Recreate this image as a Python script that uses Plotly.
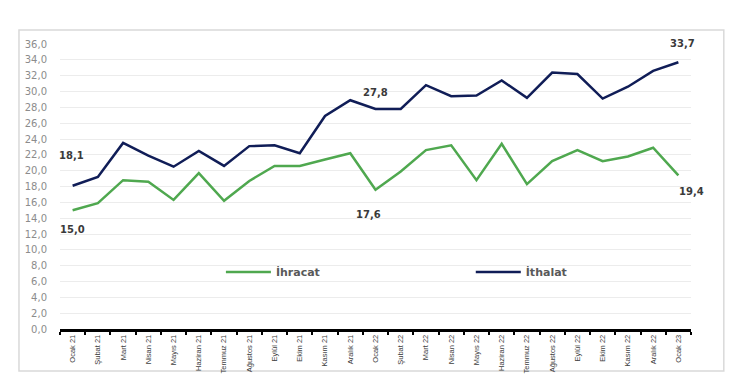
import plotly.graph_objects as go

months = ["Ocak 21", "Şubat 21", "Mart 21", "Nisan 21", "Mayıs 21", "Haziran 21", "Temmuz 21",
          "Ağustos 21", "Eylül 21", "Ekim 21", "Kasım 21", "Aralık 21", "Ocak 22", "Şubat 22",
          "Mart 22", "Nisan 22", "Mayıs 22", "Haziran 22", "Temmuz 22", "Ağustos 22", "Eylül 22",
          "Ekim 22", "Kasım 22", "Aralık 22", "Ocak 23"]

ihracat = [15.0, 15.9, 18.8, 18.6, 16.3, 19.7, 16.2, 18.7, 20.6, 20.6, 21.4, 22.2, 17.6, 19.9,
           22.6, 23.2, 18.8, 23.4, 18.3, 21.2, 22.6, 21.2, 21.8, 22.9, 19.4]

ithalat = [18.1, 19.2, 23.5, 21.9, 20.5, 22.5, 20.6, 23.1, 23.2, 22.2, 26.9, 28.9, 27.8, 27.8,
           30.8, 29.4, 29.5, 31.4, 29.2, 32.4, 32.2, 29.1, 30.6, 32.6, 33.7]

y_ticks = [0, 2, 4, 6, 8, 10, 12, 14, 16, 18, 20, 22, 24, 26, 28, 30, 32, 34, 36]

# labelled points: (index, yshift, xshift)
labels_ihracat = [(0, -19, 0), (12, -25, -7), (24, -16, 13)]
labels_ithalat = [(0, 30, -1), (12, 16, 0), (24, 19, 4)]

GREEN = "#4fa84f"
NAVY = "#101d57"

fig = go.Figure()
fig.add_trace(go.Scatter(x=months, y=ihracat, mode="lines", name="İhracat",
                         line=dict(color=GREEN, width=2.5), legend="legend"))
fig.add_trace(go.Scatter(x=months, y=ithalat, mode="lines", name="İthalat",
                         line=dict(color=NAVY, width=2.5), legend="legend2"))

ann_font = dict(family="DejaVu Sans", size=10, color="#3a3a3a")
annotations = []
for series, lab in ((ihracat, labels_ihracat), (ithalat, labels_ithalat)):
    for i, ys, xs in lab:
        annotations.append(dict(x=months[i], y=series[i], xref="x", yref="y",
                                text="<b>" + f"{series[i]:.1f}".replace(".", ",") + "</b>",
                                showarrow=False, yshift=ys, xshift=xs, font=ann_font))

leg_font = dict(family="DejaVu Sans", size=11, color="#595959", weight="bold")
leg_common = dict(orientation="h", xanchor="left", yanchor="middle", y=0.2,
                  font=leg_font, bgcolor="rgba(0,0,0,0)", itemwidth=45)

# page has an 8px body margin, so the figure is drawn 8px smaller and shifted
fig.update_layout(
    width=742, height=382,
    margin=dict(l=52, r=59, t=36, b=61),
    paper_bgcolor="white", plot_bgcolor="white",
    separators=",.",
    showlegend=True,
    legend=dict(x=0.255, **leg_common),
    legend2=dict(x=0.651, **leg_common),
    annotations=annotations,
    shapes=[dict(type="rect", xref="paper", yref="paper",
                 x0=-0.065, x1=1.052, y0=-0.147, y1=1.049,
                 line=dict(color="#d9d9d9", width=1.5), layer="below")],
    xaxis=dict(type="category", categoryorder="array", categoryarray=months,
               range=[-0.5, len(months) - 0.5], autorange=False,
               tickangle=-90, tickfont=dict(family="Liberation Sans", size=7.5, color="#404040"),
               showgrid=False, showline=True, linecolor="black", linewidth=2.5,
               ticks="outside", ticklen=3, tickwidth=2, tickcolor="black", tickson="boundaries",
               fixedrange=True),
    yaxis=dict(range=[0, 36], autorange=False, tickvals=y_ticks, tickformat=".1f",
               tickfont=dict(family="DejaVu Sans", size=10, color="#8c8c8c"),
               showgrid=True, gridcolor="#ececec", gridwidth=1, zeroline=False,
               showline=False, ticks="", ticklabelstandoff=12),
)

fig.write_html("out.html")
